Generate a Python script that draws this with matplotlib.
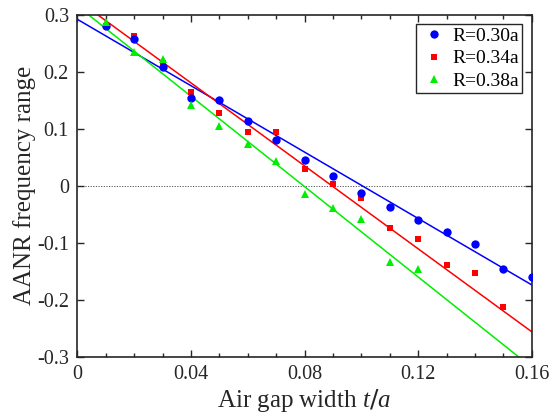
import matplotlib
matplotlib.use('Agg')
import matplotlib.pyplot as plt
import numpy as np
from matplotlib.ticker import FixedLocator, MultipleLocator, FuncFormatter

plt.rcParams['font.family'] = ['Liberation Serif', 'DejaVu Serif']
plt.rcParams['mathtext.fontset'] = 'custom'
plt.rcParams['mathtext.it'] = 'Liberation Serif:italic'
plt.rcParams['axes.unicode_minus'] = False

# Air gap width (t/a) and frequency range for each rod radius
t30 = [0.01, 0.02, 0.03, 0.04, 0.05, 0.06, 0.07, 0.08,
       0.09, 0.10, 0.11, 0.12, 0.13, 0.14, 0.15, 0.16]
r30 = [0.280, 0.258, 0.209, 0.154, 0.150, 0.113, 0.080, 0.045,
       0.0165, -0.012, -0.037, -0.060, -0.082, -0.102, -0.146, -0.161]

t34 = [0.01, 0.02, 0.03, 0.04, 0.05, 0.06, 0.07, 0.08,
       0.09, 0.10, 0.11, 0.12, 0.13, 0.14, 0.15]
r34 = [0.280, 0.263, 0.215, 0.164, 0.128, 0.094, 0.095, 0.030,
       0.003, -0.022, -0.074, -0.093, -0.140, -0.154, -0.213]

t38 = [0.01, 0.02, 0.03, 0.04, 0.05, 0.06, 0.07, 0.08,
       0.09, 0.10, 0.11, 0.12]
r38 = [0.287, 0.234, 0.222, 0.141, 0.105, 0.073, 0.043, -0.015,
       -0.039, -0.058, -0.134, -0.146]

# linear fits: slope and intercept for R=0.30a, 0.34a, 0.38a
fit_slope = [-2.9125, -3.639, -3.963]
fit_icpt = [0.292, 0.326, 0.3155]

labels = ['R=0.30a', 'R=0.34a', 'R=0.38a']
xticks = [0, 0.04, 0.08, 0.12, 0.16]
yticks = [-0.3, -0.2, -0.1, 0, 0.1, 0.2, 0.3]

fig = plt.figure(figsize=(5.51, 4.18), dpi=100)
ax = fig.add_axes([0.1403, 0.1467, 0.8247, 0.8181])

ax.axhline(0, color='#555555', linestyle=(0, (1.2, 1.5)), linewidth=0.7, zorder=1)

# stacking: red squares at the bottom, then blue, green triangles on top
series = [(t30, r30, 'o', '#0000ff', 6.0, 3.1),
          (t34, r34, 's', '#ff0000', 4.3, 3.0),
          (t38, r38, '^', '#00ee00', 5.5, 3.2)]
tline = np.array([0, 0.16])
for (tx, ry, mk, col, ms, z), lab, k, b in zip(series, labels, fit_slope, fit_icpt):
    ax.plot(tx, ry, mk, color=col, markersize=ms, markeredgewidth=0, label=lab, zorder=z)
    ax.plot(tline, k * tline + b, color=col, linewidth=1.1, zorder=2)

ax.set_xlim(0, 0.16)
ax.set_ylim(-0.3, 0.3)
ax.xaxis.set_major_locator(FixedLocator(xticks))
ax.xaxis.set_minor_locator(MultipleLocator(0.01))
ax.yaxis.set_major_locator(FixedLocator(yticks))

def fmt(v, pos):
    s = ('%.2f' % v).rstrip('0').rstrip('.')
    return '0' if s in ('0', '-0') else s

ax.xaxis.set_major_formatter(FuncFormatter(fmt))
ax.yaxis.set_major_formatter(FuncFormatter(fmt))

ax.tick_params(which='both', direction='in', top=True, right=True,
               labelsize=14.5, colors='#262626', width=1.0)
ax.tick_params(which='major', length=5, pad=6)
ax.tick_params(which='minor', length=3)
for sp in ax.spines.values():
    sp.set_linewidth(1.2)
    sp.set_color('#262626')

ax.set_xlabel('Air gap width $t/a$', fontsize=18, color='#262626', labelpad=2)
ax.set_ylabel('AANR frequency range', fontsize=18, color='#262626', labelpad=1)

leg = ax.legend(loc='upper right', fontsize=14, fancybox=False, edgecolor='#262626',
                framealpha=1, handlelength=1.6, handletextpad=0.15, borderpad=0.15,
                labelspacing=0.25, borderaxespad=0.5)
leg.get_frame().set_linewidth(1.0)

plt.savefig('out.png', dpi=100)
